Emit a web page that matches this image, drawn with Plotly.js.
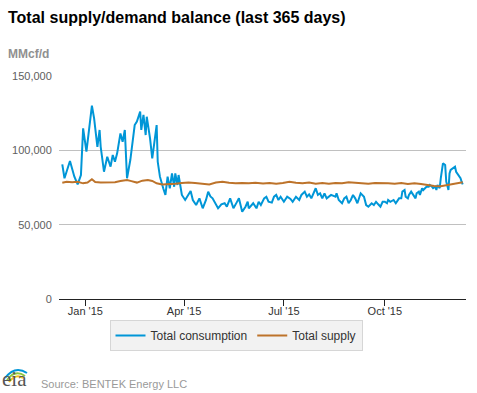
<!DOCTYPE html>
<html>
<head>
<meta charset="utf-8">
<script src="https://cdn.plot.ly/plotly-3.0.1.min.js"></script>
<style>html,body{margin:0;padding:0;background:#fff;}#chart{width:477px;height:393px;}</style>
</head>
<body>
<div id="chart"></div>
<script>
// ---- data ----
var consDates = ['2014-12-11','2014-12-13','2014-12-18','2014-12-22','2014-12-25','2014-12-28','2014-12-30',
 '2015-01-02','2015-01-07','2015-01-09','2015-01-12','2015-01-14','2015-01-15','2015-01-18','2015-01-21','2015-01-24','2015-01-26','2015-01-28','2015-01-30',
 '2015-02-02','2015-02-04','2015-02-06','2015-02-08','2015-02-11','2015-02-15','2015-02-17','2015-02-20','2015-02-21','2015-02-23','2015-02-25','2015-02-26',
 '2015-03-01','2015-03-03','2015-03-05','2015-03-07','2015-03-08','2015-03-10','2015-03-13','2015-03-15','2015-03-17','2015-03-19','2015-03-21','2015-03-23','2015-03-24','2015-03-26','2015-03-27','2015-03-30',
 '2015-04-02','2015-04-05','2015-04-07','2015-04-09','2015-04-12','2015-04-15','2015-04-18','2015-04-21','2015-04-23','2015-04-25','2015-04-27',
 '2015-05-02','2015-05-05','2015-05-08','2015-05-10','2015-05-13','2015-05-16','2015-05-19','2015-05-21','2015-05-24','2015-05-27','2015-05-29','2015-05-30',
 '2015-06-03','2015-06-06','2015-06-08','2015-06-10','2015-06-13','2015-06-15','2015-06-17','2015-06-20','2015-06-22','2015-06-24','2015-06-26','2015-06-28',
 '2015-07-01','2015-07-04','2015-07-07','2015-07-09','2015-07-12','2015-07-15','2015-07-17','2015-07-20','2015-07-22','2015-07-24','2015-07-26','2015-07-29','2015-07-30',
 '2015-08-01','2015-08-03','2015-08-05','2015-08-07','2015-08-09','2015-08-13','2015-08-17','2015-08-18','2015-08-20','2015-08-23','2015-08-25','2015-08-27','2015-08-29','2015-08-31',
 '2015-09-02','2015-09-04','2015-09-06','2015-09-07','2015-09-09','2015-09-12','2015-09-14','2015-09-16','2015-09-19','2015-09-21','2015-09-23','2015-09-25','2015-09-27','2015-09-29',
 '2015-10-01','2015-10-03','2015-10-04','2015-10-06','2015-10-08','2015-10-09','2015-10-11','2015-10-13','2015-10-14','2015-10-16','2015-10-17','2015-10-19','2015-10-20','2015-10-22','2015-10-23','2015-10-25','2015-10-26','2015-10-27','2015-10-29','2015-10-30',
 '2015-11-01','2015-11-02','2015-11-04','2015-11-05','2015-11-07','2015-11-08','2015-11-10','2015-11-11','2015-11-13','2015-11-14','2015-11-16','2015-11-17','2015-11-18','2015-11-20','2015-11-21','2015-11-23','2015-11-25','2015-11-26','2015-11-28','2015-11-29','2015-11-30',
 '2015-12-02','2015-12-04','2015-12-05','2015-12-07','2015-12-09','2015-12-10','2015-12-11'];
var consValues = [90600,81200,92800,82300,77100,83400,114800,
 99100,130000,121500,102400,113700,102400,85600,95700,89000,96900,92300,98000,
 111400,105800,113700,81200,93500,117000,119300,126000,113700,123800,110300,122600,
 108100,94600,105800,117000,92300,82300,74500,70000,82300,74500,84500,75500,84500,76700,83400,70000,
 66600,70000,72600,66600,63200,67700,61000,66600,72200,69000,67700,
 61000,63700,64400,62100,67700,61000,65000,67700,58700,62100,65400,61000,
 64400,61000,65400,63200,67700,68800,65400,64800,68800,70000,66600,68800,
 65400,68800,67300,65400,68800,66600,70000,72200,68800,70400,67700,73300,74500,
 70000,71100,67700,71100,67700,70000,68800,71100,66600,64400,67700,68800,64400,66600,
 70000,67700,64400,66600,71100,68800,63200,62100,64400,63200,65400,63700,62100,65400,
 65400,64400,66600,65400,66000,66600,64400,66600,67700,67700,72200,73300,68800,67700,70000,72200,71100,70000,67700,71100,
 72200,70000,74500,73300,74500,75500,75500,76700,75500,74500,75500,73300,76700,74500,81200,91300,90100,78900,73300,84500,86800,
 87900,89000,85600,83400,81200,78900,77100];

var supplyDates = ['2014-12-11','2014-12-15','2014-12-20','2014-12-25','2014-12-30','2015-01-03','2015-01-07','2015-01-10','2015-01-15','2015-01-21','2015-01-28',
 '2015-02-02','2015-02-08','2015-02-12','2015-02-17','2015-02-22','2015-02-27','2015-03-03','2015-03-07','2015-03-12','2015-03-18','2015-03-24','2015-03-30',
 '2015-04-05','2015-04-11','2015-04-18','2015-04-24','2015-04-30','2015-05-06','2015-05-12','2015-05-18','2015-05-24','2015-05-30',
 '2015-06-05','2015-06-12','2015-06-18','2015-06-24','2015-06-30','2015-07-06','2015-07-12','2015-07-18','2015-07-24','2015-07-30',
 '2015-08-05','2015-08-11','2015-08-17','2015-08-23','2015-08-29','2015-09-04','2015-09-10','2015-09-16','2015-09-22','2015-09-28',
 '2015-10-04','2015-10-10','2015-10-16','2015-10-22','2015-10-28','2015-11-03','2015-11-09','2015-11-15','2015-11-21','2015-11-26',
 '2015-12-01','2015-12-06','2015-12-11'];
var supplyValues = [78200,78900,78500,78900,77800,78300,80500,78700,78400,78500,78600,
 79300,80000,79300,78300,79600,80000,79400,77800,77100,77200,77500,78000,
 78400,78000,77600,77100,78300,78900,78200,77800,78100,77800,
 78200,77700,78000,77600,78100,78900,78200,77800,78300,77600,
 78000,77500,78100,77800,78600,78300,77900,77500,78000,77700,
 77900,77600,78100,77400,77800,77300,76600,76000,75900,76500,
 77300,78200,78600];

var seriesNames = ['Total consumption','Total supply'];
var xTickVals = ['2015-01-01','2015-04-01','2015-07-01','2015-10-01'];
var xTickText = ["Jan '15","Apr '15","Jul '15","Oct '15"];
var yTickVals = [0,50000,100000,150000];
var yTickText = ['0','50,000','100,000','150,000'];

// ---- layout helpers (pixel -> paper) ----
var W = 477, H = 393, L = 59, R = 11, T = 76, B = 94;
var PW = W - L - R, PH = H - T - B;
function px(x){ return (x - L) / PW; }
function py(y){ return (H - B - y) / PH; }
function arc(x0,y0,cx,cy,x1,y1){
  return 'M' + px(x0) + ',' + py(y0) + ' Q' + px(cx) + ',' + py(cy) + ' ' + px(x1) + ',' + py(y1);
}

var FONT = 'Arial, "Liberation Sans", sans-serif';

var traces = [
  {x: consDates, y: consValues, name: seriesNames[0], type: 'scatter', mode: 'lines',
   line: {color: '#0096d7', width: 2}},
  {x: supplyDates, y: supplyValues, name: seriesNames[1], type: 'scatter', mode: 'lines',
   line: {color: '#bd732a', width: 2}}
];

var layout = {
  width: W, height: H, autosize: false,
  margin: {l: L, r: R, t: T, b: B, pad: 0},
  paper_bgcolor: '#fff', plot_bgcolor: '#fff',
  font: {family: FONT, size: 11, color: '#333'},
  title: {text: 'Total supply/demand balance (last 365 days)', xref: 'container', yref: 'container',
          x: 8 / W, xanchor: 'left', y: 1 - 17 / H, yanchor: 'middle',
          font: {family: FONT, size: 16, color: '#000', weight: 'bold'}},
  xaxis: {type: 'date', range: ['2014-12-08', '2015-12-14'],
          tickmode: 'array', tickvals: xTickVals, ticktext: xTickText,
          ticks: 'outside', ticklen: 6, tickcolor: '#222', tickwidth: 1,
          showline: true, linecolor: '#222', linewidth: 1,
          showgrid: false, zeroline: false,
          tickfont: {family: FONT, size: 11, color: '#333'}, ticklabelstandoff: -4},
  yaxis: {range: [0, 150000], tickmode: 'array', tickvals: yTickVals, ticktext: yTickText,
          showgrid: true, gridcolor: '#c0c0c0', gridwidth: 1, zeroline: false, showline: false,
          ticks: 'outside', ticklen: 4, tickcolor: 'rgba(0,0,0,0)',
          tickfont: {family: FONT, size: 11, color: '#606060'}},
  showlegend: true,
  legend: {orientation: 'h', x: px(236), xanchor: 'center', y: py(320), yanchor: 'top',
           bgcolor: '#f2f2f2', bordercolor: '#d6d6d6', borderwidth: 1,
           itemwidth: 30, font: {family: FONT, size: 12, color: '#333'}},
  annotations: [
    {text: '<b>MMcf/d</b>', xref: 'paper', yref: 'paper', x: px(6), y: py(54), xanchor: 'left', yanchor: 'middle',
     showarrow: false, font: {family: FONT, size: 12, color: '#909090'}},
    {text: 'Source: BENTEK Energy LLC', xref: 'paper', yref: 'paper', x: px(39), y: py(384), xanchor: 'left', yanchor: 'middle',
     showarrow: false, font: {family: FONT, size: 11, color: '#999'}},
    {text: 'eia', xref: 'paper', yref: 'paper', x: px(1), y: py(392), xanchor: 'left', yanchor: 'bottom',
     showarrow: false, borderpad: 0, font: {family: '"Liberation Serif", "DejaVu Serif", serif', size: 21, color: '#555'}}
  ],
  shapes: [
    {type: 'path', xref: 'paper', yref: 'paper', path: arc(5,378,15,365,27,373), line: {color: '#0096d7', width: 2}},
    {type: 'path', xref: 'paper', yref: 'paper', path: arc(7,380,15,369,25,376), line: {color: '#8dc63f', width: 2}},
    {type: 'path', xref: 'paper', yref: 'paper', path: arc(9,382,16,373,23,378), line: {color: '#f2c21a', width: 2}}
  ]
};

Plotly.newPlot('chart', traces, layout, {displayModeBar: false, staticPlot: true});
</script>
</body>
</html>
